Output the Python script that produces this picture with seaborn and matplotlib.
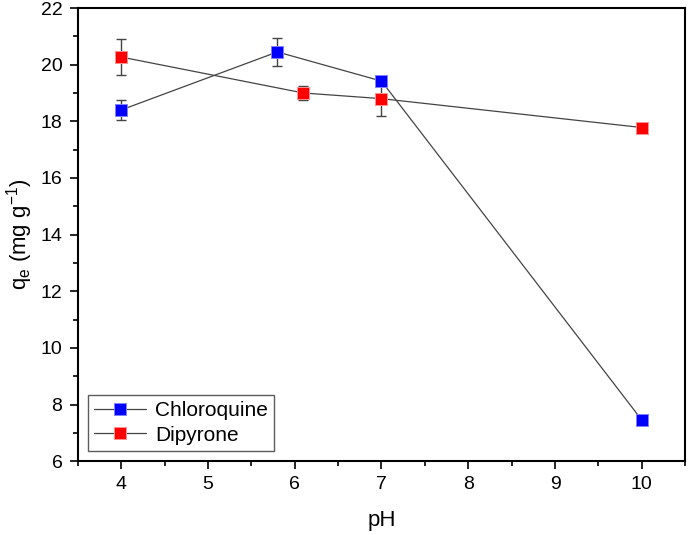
import seaborn as sns
import matplotlib.pyplot as plt
import pandas as pd

# pH values and adsorption capacity for each drug
ph_chloro = [4.0, 5.8, 7.0, 10.0]
qe_chloro = [18.4, 20.45, 19.42, 7.45]
err_chloro = [0.35, 0.5, 0.1, 0.0]

ph_dipy = [4.0, 6.1, 7.0, 10.0]
qe_dipy = [20.27, 19.0, 18.8, 17.78]
err_dipy = [0.62, 0.25, 0.6, 0.05]

sns.set_style('ticks')
plt.rcParams['font.family'] = ['Liberation Sans', 'DejaVu Sans']
plt.rcParams['text.color'] = 'black'
plt.rcParams['axes.labelcolor'] = 'black'
plt.rcParams['xtick.color'] = 'black'
plt.rcParams['ytick.color'] = 'black'

fig = plt.figure(figsize=(6.88, 5.35), dpi=100)
ax = fig.add_axes([0.113, 0.138, 0.883, 0.847])

series = [
    ('Chloroquine', ph_chloro, qe_chloro, err_chloro, '#0000ff', '#8080ff'),
    ('Dipyrone', ph_dipy, qe_dipy, err_dipy, '#ff0000', '#ff9090'),
]
for name, x, y, e, col, edge in series:
    df = pd.DataFrame({'pH': x, 'qe': y})
    ax.errorbar(x, y, yerr=e, fmt='none', ecolor='#444444', elinewidth=1,
                capsize=3.5, capthick=1, zorder=2)
    sns.lineplot(data=df, x='pH', y='qe', ax=ax, color='#444444', linewidth=0.9,
                 marker='s', markersize=8, markerfacecolor=col,
                 markeredgecolor=edge, markeredgewidth=0.7, label=name,
                 sort=False, zorder=3)

ax.set_xlim(3.5, 10.5)
ax.set_ylim(6, 22)
ax.set_xticks([4, 5, 6, 7, 8, 9, 10])
ax.set_yticks(range(6, 23, 2))
ax.set_xticks([x + 0.5 for x in range(3, 11)], minor=True)
ax.set_yticks(range(7, 22, 2), minor=True)
ax.tick_params(which='major', direction='out', length=6, width=1.2, labelsize=14, pad=5)
ax.tick_params(which='minor', direction='out', length=3.5, width=1.2)
for s in ax.spines.values():
    s.set_linewidth(1.5)
    s.set_color('black')

ax.set_xlabel('pH', fontsize=16, labelpad=12)
ax.set_ylabel(r'q$_\mathregular{e}$ (mg g$^\mathregular{-1}$)', fontsize=16, labelpad=4)

leg = ax.legend(loc='lower left', fontsize=15, frameon=True, fancybox=False,
                edgecolor='#333333', borderaxespad=0.5, handlelength=2.5,
                handletextpad=0.4, borderpad=0.3, labelspacing=0.25)
leg.get_frame().set_linewidth(1.0)

plt.savefig('out.png', dpi=100)
plt.close()
